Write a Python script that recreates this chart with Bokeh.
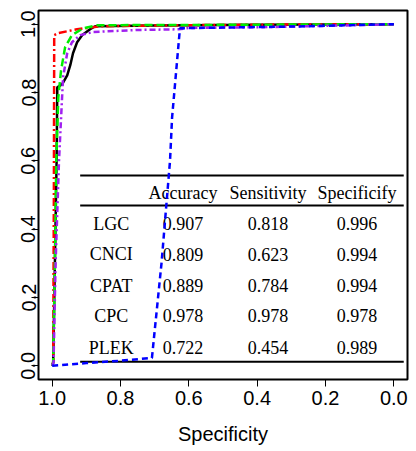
from bokeh.plotting import figure
from bokeh.models import Range1d, FixedTicker, NumeralTickFormatter, ColumnDataSource
from bokeh.core.properties import value
from bokeh.embed import file_html
from bokeh.resources import INLINE

# ---- data: ROC curves (specificity, sensitivity) ----
lgc_spec = [1.0, 0.997, 0.992, 0.987, 0.985, 0.971, 0.956, 0.947, 0.939, 0.927, 0.912, 0.889, 0.874, 0.7, 0.4, 0.0]
lgc_sens = [0.0, 0.01, 0.3, 0.6, 0.815, 0.824, 0.85, 0.88, 0.915, 0.947, 0.968, 0.985, 0.994, 0.996, 0.998, 1.0]

cnci_spec = [1.0, 0.997, 0.995, 0.994, 0.982, 0.927, 0.86, 0.6, 0.3, 0.0]
cnci_sens = [0.0, 0.01, 0.5, 0.968, 0.974, 0.985, 0.994, 0.997, 0.999, 1.0]

cpat_spec = [1.0, 0.997, 0.992, 0.988, 0.982, 0.974, 0.962, 0.942, 0.909, 0.868, 0.5, 0.0]
cpat_sens = [0.0, 0.01, 0.3, 0.6, 0.786, 0.865, 0.933, 0.968, 0.988, 0.997, 0.998, 1.0]

plek_spec = [1.0, 0.9, 0.8, 0.708, 0.68, 0.655, 0.649, 0.626, 0.5, 0.3, 0.0]
plek_sens = [0.0, 0.008, 0.015, 0.023, 0.3, 0.601, 0.727, 0.988, 0.99, 0.993, 1.0]

cpc_spec = [1.0, 0.996, 0.99, 0.98, 0.971, 0.968, 0.956, 0.942, 0.918, 0.88, 0.75, 0.63, 0.6, 0.4, 0.2, 0.0]
cpc_sens = [0.0, 0.01, 0.3, 0.6, 0.786, 0.845, 0.915, 0.947, 0.968, 0.977, 0.983, 0.985, 0.989, 0.991, 0.995, 1.0]

# ---- data: table ----
methods = ["LGC", "CNCI", "CPAT", "CPC", "PLEK"]
accuracy = [0.907, 0.809, 0.889, 0.978, 0.722]
sensitivity = [0.818, 0.623, 0.784, 0.978, 0.454]
specificity = [0.996, 0.994, 0.994, 0.978, 0.989]
headers = ["Accuracy", "Sensitivity", "Specificify"]

ticks = [0.0, 0.2, 0.4, 0.6, 0.8, 1.0]

# ---- layout constants (data coordinates) ----
col_x = [0.827, 0.617, 0.368, 0.108]
header_y = 0.507
row_y = [0.416, 0.326, 0.235, 0.147, 0.053]
rule_x0, rule_x1 = 0.918, -0.029
rule_y = [0.557, 0.469, 0.012]

p = figure(width=416, height=451, output_backend="svg", toolbar_location=None,
           x_range=Range1d(1.04, -0.04), y_range=Range1d(-0.04, 1.04),
           min_border_left=38, min_border_right=9, min_border_top=10, min_border_bottom=72)
p.background_fill_color = "white"
p.border_fill_color = "white"
p.grid.visible = False
p.outline_line_color = "black"
p.outline_line_width = 2

for ax in (p.xaxis[0], p.yaxis[0]):
    ax.ticker = FixedTicker(ticks=ticks)
    ax.formatter = NumeralTickFormatter(format="0.0")
    ax.axis_line_color = None
    ax.major_tick_out = 7
    ax.major_tick_in = 0
    ax.minor_tick_out = 0
    ax.minor_tick_in = 0
    ax.major_tick_line_color = "black"
    ax.major_tick_line_width = 1
    ax.major_label_text_font = "Liberation Sans"
    ax.major_label_text_font_size = "20px"
    ax.major_label_text_color = "black"

p.yaxis.major_label_orientation = "vertical"
p.yaxis.major_label_standoff = -4
p.xaxis.major_label_standoff = 4
p.xaxis.axis_label = "Specificity"
p.xaxis.axis_label_text_font = "Liberation Sans"
p.xaxis.axis_label_text_font_size = "20px"
p.xaxis.axis_label_text_font_style = "normal"
p.xaxis.axis_label_text_color = "black"
p.xaxis.axis_label_standoff = 15

lw = 2.5
p.line(lgc_spec, lgc_sens, line_color="black", line_width=lw)
p.line(cnci_spec, cnci_sens, line_color="#ff0000", line_width=lw, line_dash="8 3 2 3")
p.line(cpat_spec, cpat_sens, line_color="#00ee00", line_width=lw, line_dash="8 4")
p.line(cpc_spec, cpc_sens, line_color="#a020f0", line_width=lw, line_dash="6 3 2 3")

# table rules
for yy in rule_y:
    p.segment(x0=[rule_x0], y0=[yy], x1=[rule_x1], y1=[yy], line_color="black", line_width=2)

# table text
serif = value("Liberation Serif")
p.text(x=col_x[1:], y=[header_y] * 3, text=headers, text_font=serif, text_font_size="18px",
       text_align="center", text_baseline="middle", text_color="black")
p.text(x=[col_x[0]] * len(methods), y=row_y, text=methods, text_font=serif, text_font_size="18px",
       text_align="center", text_baseline="middle", text_color="black")
for ci, vals in enumerate([accuracy, sensitivity, specificity]):
    src = ColumnDataSource(dict(x=[col_x[ci + 1]] * len(vals), y=row_y,
                                t=["%.3f" % v for v in vals]))
    p.text(x="x", y="y", text="t", source=src, text_font=serif, text_font_size="18px",
           text_align="center", text_baseline="middle", text_color="black")

p.line(plek_spec, plek_sens, line_color="#0000ff", line_width=lw, line_dash="6 4")

open("out.html", "w").write(file_html(p, INLINE))
